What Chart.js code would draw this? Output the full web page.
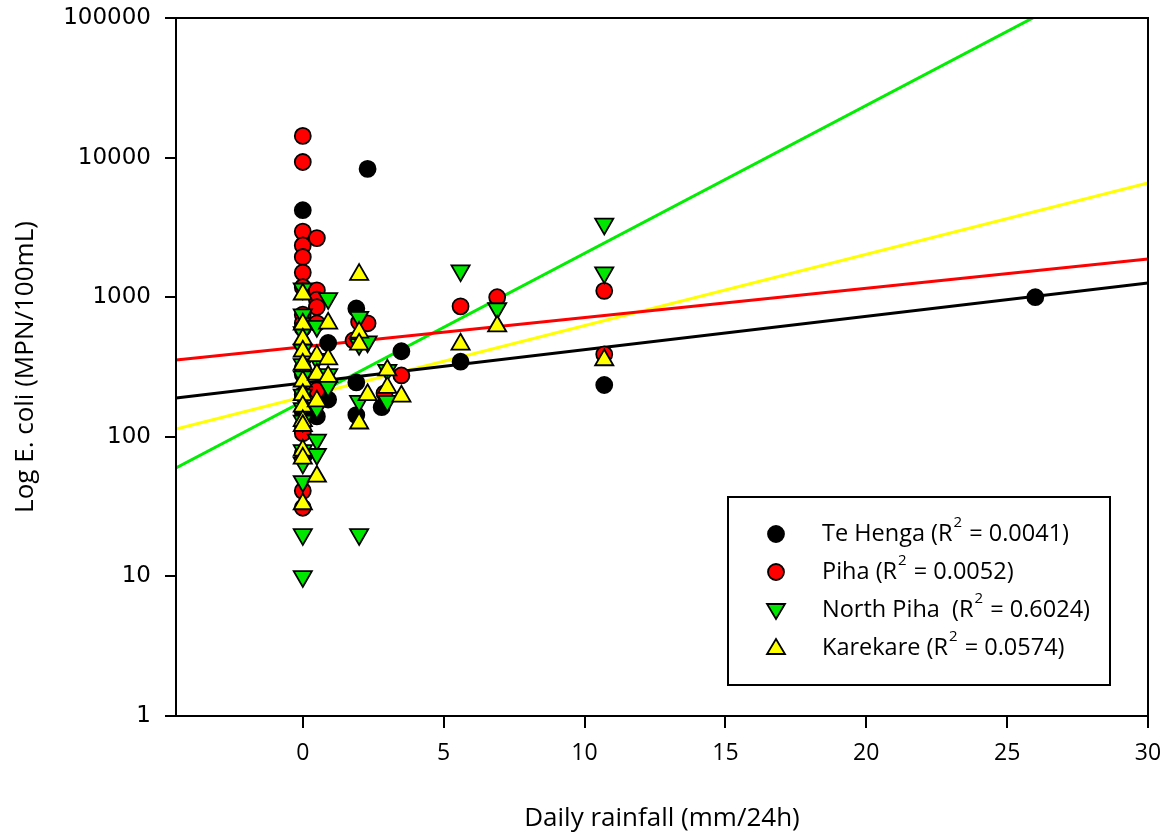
<!DOCTYPE html>
<html>
<head>
<meta charset="utf-8">
<script src="https://cdn.jsdelivr.net/npm/chart.js@4.4.0/dist/chart.umd.min.js"></script>
<style>
  body { margin: 0; background: #fff; }
  #wrap { width: 1170px; height: 834px; }
</style>
</head>
<body>
<div id="wrap"><canvas id="rainChart" width="1170" height="834"></canvas></div>
<script>
// site names and R² from the legend
const seriesNames = ['Te Henga', 'Piha', 'North Piha ', 'Karekare'];
const rSquared = ['0.0041', '0.0052', '0.6024', '0.0574'];

// Te Henga
const teHengaX = [0, 0, 0, 0, 0, 0.5, 0.9, 0.9, 1.9, 1.9, 1.9, 2.3, 2.8, 3.5, 5.6, 10.7, 26];
const teHengaY = [4200, 310, 200, 150, 120, 140, 470, 185, 830, 245, 143, 8300, 163, 410, 345, 235, 1000];

// Piha
const pihaX = [0, 0, 0, 0, 0, 0, 0, 0, 0, 0, 0, 0, 0, 0, 0, 0, 0.5, 0.5, 0.5, 0.5, 0.5, 0.5, 1.8, 2.0, 2.3, 2.9, 3.5, 5.6, 6.9, 10.7, 10.7];
const pihaY = [14300, 9300, 2950, 2350, 1940, 1500, 1180, 750, 650, 600, 280, 200, 106, 76, 41, 31, 2650, 1120, 960, 850, 650, 215, 490, 665, 650, 205, 275, 860, 1000, 1110, 390];

// North Piha
const northPihaX = [0, 0, 0, 0, 0, 0, 0, 0, 0, 0, 0, 0, 0, 0, 0.5, 0.5, 0.5, 0.5, 0.5, 0.9, 0.9, 0.9, 2.0, 2.0, 2.0, 2.0, 2.3, 3.0, 3.0, 5.6, 6.9, 10.7, 10.7];
const northPihaY = [1150, 750, 560, 420, 330, 270, 200, 160, 130, 80, 65, 48, 20, 10, 620, 360, 160, 95, 75, 980, 280, 230, 720, 460, 180, 20, 480, 300, 180, 1550, 830, 3350, 1500];

// Karekare
const karekareX = [0, 0, 0, 0, 0, 0, 0, 0, 0, 0, 0, 0, 0, 0.5, 0.5, 0.5, 0.5, 0.9, 0.9, 0.9, 2.0, 2.0, 2.0, 2.0, 2.3, 3.0, 3.0, 3.5, 5.6, 6.9, 10.7];
const karekareY = [1050, 640, 500, 410, 330, 250, 200, 165, 130, 120, 80, 70, 33, 380, 280, 180, 52, 650, 360, 270, 1450, 560, 460, 125, 200, 300, 225, 195, 460, 620, 355];

// log10 fits: log10(y) = a + b*x
const fitIntercept = [2.385, 2.644, 2.254, 2.286];
const fitSlope = [0.0239, 0.021, 0.106, 0.0511];

const xTicks = [0, 5, 10, 15, 20, 25, 30];
const yTicks = [1, 10, 100, 1000, 10000, 100000];
const xMin = -4.5, xMax = 30;

const fills = ['#000000', '#ff0000', '#00e600', '#ffff00'];
const lineColors = ['#000000', '#ff0000', '#00ee00', '#ffff00'];
const styles = ['circle', 'circle', 'triangle', 'triangle'];
const rotations = [0, 0, 180, 0];
const radii = [8, 8, 10.5, 10.5];

const xs = [teHengaX, pihaX, northPihaX, karekareX];
const ys = [teHengaY, pihaY, northPihaY, karekareY];

const datasets = [];
for (let i = 0; i < 4; i++) {
    datasets.push({
        type: 'scatter',
        label: seriesNames[i],
        data: xs[i].map((x, k) => ({ x: x, y: ys[i][k] })),
        pointStyle: styles[i],
        rotation: rotations[i],
        pointRadius: radii[i],
        pointHoverRadius: radii[i],
        backgroundColor: fills[i],
        borderColor: '#000',
        pointBorderWidth: 1.8,
        order: 4 - i
    });
}
for (let i = 0; i < 4; i++) {
    datasets.push({
        type: 'line',
        label: seriesNames[i] + ' fit',
        data: [xMin, xMax].map(x => ({ x: x, y: Math.pow(10, fitIntercept[i] + fitSlope[i] * x) })),
        borderColor: lineColors[i],
        borderWidth: 3,
        pointRadius: 0,
        fill: false,
        clip: true,
        order: 10
    });
}

// frame round plot area + legend box
const framePlugin = {
    id: 'frame',
    afterDatasetsDraw(chart) {
        const { ctx, chartArea: a } = chart;
        ctx.save();
        ctx.strokeStyle = '#000';
        ctx.lineWidth = 2;
        ctx.strokeRect(a.left, a.top, a.right - a.left, a.bottom - a.top);

        // legend
        const bx = 728, by = 497, bw = 382, bh = 188;
        ctx.fillStyle = '#fff';
        ctx.fillRect(bx, by, bw, bh);
        ctx.strokeRect(bx, by, bw, bh);
        const font = '23.5px "Open Sans", sans-serif';
        const small = '15px "Open Sans", sans-serif';
        for (let i = 0; i < 4; i++) {
            const cy = 534 + i * 38;
            const mx = 776;
            ctx.fillStyle = fills[i];
            ctx.strokeStyle = '#000';
            ctx.lineWidth = 1.8;
            ctx.beginPath();
            if (styles[i] === 'circle') {
                ctx.arc(mx, cy, 8, 0, Math.PI * 2);
            } else if (rotations[i] === 180) {
                ctx.moveTo(mx - 9, cy - 6);
                ctx.lineTo(mx + 9, cy - 6);
                ctx.lineTo(mx, cy + 9);
                ctx.closePath();
            } else {
                ctx.moveTo(mx - 9, cy + 6);
                ctx.lineTo(mx + 9, cy + 6);
                ctx.lineTo(mx, cy - 9);
                ctx.closePath();
            }
            ctx.fill();
            ctx.stroke();

            ctx.fillStyle = '#000';
            ctx.textBaseline = 'middle';
            ctx.textAlign = 'left';
            let tx = 822;
            const first = seriesNames[i] + ' (R';
            ctx.font = font;
            ctx.fillText(first, tx, cy);
            tx += ctx.measureText(first).width;
            ctx.font = small;
            ctx.fillText('2', tx + 1, cy - 11);
            tx += ctx.measureText('2').width + 2;
            ctx.font = font;
            ctx.fillText(' = ' + rSquared[i] + ')', tx, cy);
        }
        ctx.restore();
    }
};

const ctx = document.getElementById('rainChart').getContext('2d');
new Chart(ctx, {
    data: { datasets: datasets },
    options: {
        responsive: false,
        animation: false,
        layout: { padding: { top: 18, right: 22, left: 0, bottom: 0 } },
        plugins: {
            legend: { display: false },
            tooltip: { enabled: false }
        },
        scales: {
            x: {
                type: 'linear',
                min: xMin,
                max: xMax,
                afterBuildTicks: s => { s.ticks = xTicks.map(v => ({ value: v })); },
                afterFit: s => { s.height = 118; s.paddingLeft = 0; s.paddingRight = 0; },
                grid: { drawOnChartArea: false, drawTicks: true, tickLength: 12, color: '#000', lineWidth: 2 },
                border: { display: true, color: '#000', width: 2 },
                ticks: {
                    color: '#000',
                    maxRotation: 0,
                    padding: 12,
                    font: { family: '"Open Sans", sans-serif', size: 23 }
                },
                title: {
                    display: true,
                    text: 'Daily rainfall (mm/24h)',
                    color: '#000',
                    padding: { top: 0, bottom: 0 },
                    font: { family: '"Open Sans", sans-serif', size: 26 }
                }
            },
            y: {
                type: 'logarithmic',
                min: 1,
                max: 100000,
                afterBuildTicks: s => { s.ticks = yTicks.map(v => ({ value: v })); },
                afterFit: s => { s.width = 176; s.paddingTop = 0; s.paddingBottom = 0; },
                grid: { drawOnChartArea: false, drawTicks: true, tickLength: 11, color: '#000', lineWidth: 2 },
                border: { display: true, color: '#000', width: 2 },
                ticks: {
                    color: '#000',
                    padding: 14,
                    callback: v => String(v),
                    font: { family: '"DejaVu Sans", sans-serif', size: 23 }
                },
                title: {
                    display: true,
                    text: 'Log E. coli (MPN/100mL)',
                    color: '#000',
                    padding: { top: 10, bottom: 0 },
                    font: { family: '"Open Sans", sans-serif', size: 26 }
                }
            }
        }
    },
    plugins: [framePlugin]
});
</script>
</body>
</html>
